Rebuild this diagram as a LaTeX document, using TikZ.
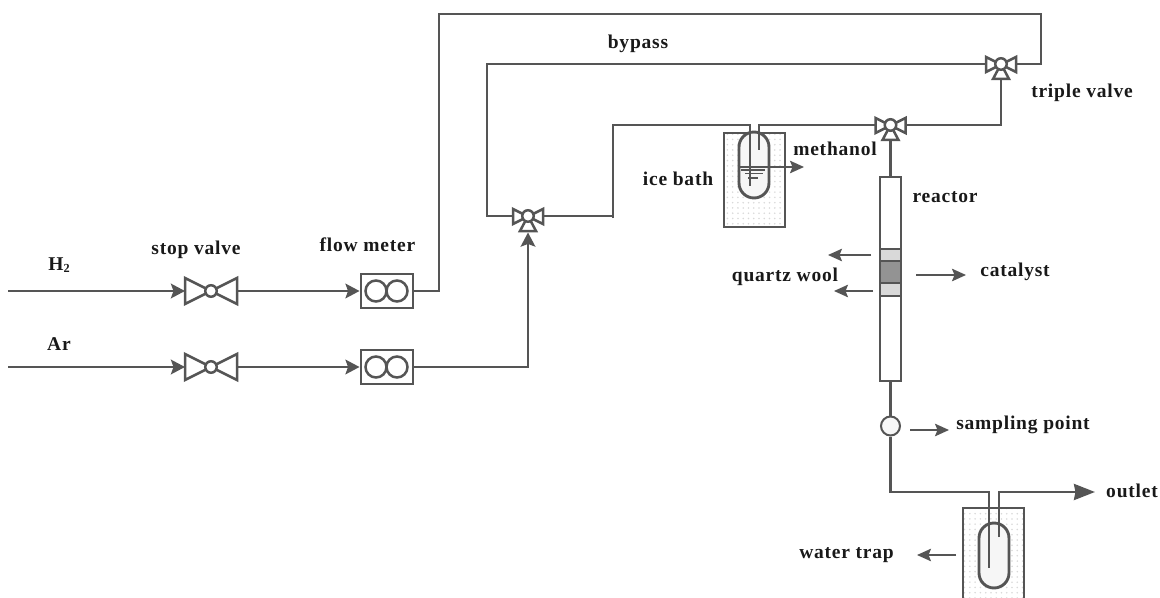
\documentclass[tikz,border=0pt]{standalone}
\usepackage{fontspec}
\setmainfont{Liberation Serif}[LetterSpace=4]
\usetikzlibrary{arrows.meta, patterns, calc}
\definecolor{pipegray}{HTML}{555555}
\tikzset{
  pipe/.style   ={draw=pipegray, line width=0.58mm, line join=miter},
  arr/.style    ={pipe, -{Stealth[length=2.8mm, width=2.9mm, inset=0.5mm]}},
  bigarr/.style ={pipe, -{Stealth[length=4.2mm, width=3.2mm, inset=0.3mm]}},
  thin arr/.style={draw=pipegray, line width=0.34mm, -{Stealth[length=2.8mm, width=2.5mm, inset=0.5mm]}},
  lbl/.style    ={font=\fontsize{11.1}{13}\selectfont\bfseries, text=black!90, inner sep=0pt},
  hub/.style    ={circle, draw=pipegray, line width=0.5mm, fill=white, minimum size=0.23cm, inner sep=0pt},
  wing/.style   ={draw=pipegray, line width=0.5mm, fill=white, line join=miter},
  meter/.style  ={draw=pipegray, line width=0.58mm, fill=white, minimum width=1.04cm, minimum height=0.68cm, inner sep=0pt},
  disc/.style   ={circle, draw=pipegray, line width=0.4mm, fill=gray!6, minimum size=0.38cm, inner sep=0pt},
  bath/.style   ={pattern=dots, pattern color=gray!30},
  capsule/.style={draw=pipegray, line width=0.58mm, fill=gray!7, rounded corners=0.3cm, minimum width=0.6cm, inner sep=0pt},
  tube/.style   ={draw=pipegray, line width=0.58mm, fill=white, minimum width=0.42cm, minimum height=4.08cm, inner sep=0pt},
  pics/stopvalve/.style={code={
    \draw[wing] (-26,-13) -- (-26,13) -- (26,-13) -- (26,13) -- cycle;
    \node[hub] (-c) at (0,0) {};
    \coordinate (-w) at (-26,0);
    \coordinate (-e) at (26,0);
  }},
  pics/triplevalve/.style={code={
    \draw[wing] (-15,-7) -- (-15,8) -- (15,-7) -- (15,8) -- cycle;
    \draw[wing] (0,0) -- (-8,15) -- (8,15) -- cycle;
    \node[hub] (-c) at (0,0) {};
    \coordinate (-w) at (-15,0);
    \coordinate (-e) at (15,0);
    \coordinate (-s) at (0,15);
  }},
  pics/flowmeter/.style={code={
    \node[meter] (-b) at (0,0) {};
    \draw[pipegray, line width=0.5mm] (-11,0) circle (10.5) (10,0) circle (10.5);
  }},
}
\begin{document}
\begin{tikzpicture}[x=0.02cm, y=-0.02cm]
  \useasboundingbox (0,0) rectangle (1160,598);

  % baths
  \fill[bath] (724,133) rectangle (785,227);
  \draw[pipe] (724,133) rectangle (785,227);
  \fill[bath] (963,508) rectangle (1024,598);
  \draw[pipe] (963,598) -- (963,508) -- (1024,508) -- (1024,598);
  \node[capsule, minimum height=1.32cm] (icevial)  at (754,165) {};
  \node[capsule, minimum height=1.3cm]  (trapvial) at (994,555.5) {};

  % valves and meters
  \coordinate (hin) at (8,291);
  \coordinate (ain) at (8,367);
  \pic (svh) at (211,291) {stopvalve};
  \pic (sva) at (211,367) {stopvalve};
  \pic (fmh) at (387,291) {flowmeter};
  \pic (fma) at (387,367) {flowmeter};
  \pic (tvb) at (528,216) {triplevalve};
  \pic (tvr) at (890.5,125) {triplevalve};
  \pic (tvt) at (1001,64) {triplevalve};
  \node[tube] (reactor) at (890.5,279) {};
  \node[disc] (sample)  at (890.5,426) {};

  % catalyst bed
  \fill[gray!30] (880,249) rectangle (901,261);
  \fill[gray!30] (880,283) rectangle (901,296);
  \fill[gray!85] (880,261) rectangle (901,283);
  \draw[pipe] (880,249) -- (901,249) (880,261) -- (901,261)
              (880,283) -- (901,283) (880,296) -- (901,296);
  \draw[pipe] (880,177) -- (880,381) (901,177) -- (901,381);

  % gas lines
  \draw[arr] (hin) -- (svh-w);
  \draw[arr] (ain) -- (sva-w);
  \draw[arr] (svh-e) -- (fmh-b.west);
  \draw[arr] (sva-e) -- (fma-b.west);
  \draw[pipe] (fmh-b.east) -| (439,14) -| (1041,64) -- (tvt-e);
  \draw[arr] (fma-b.east) -| ($(tvb-s)+(0,1.5)$);
  \draw[pipe] (tvb-w) -| (487,64) -- (tvt-w);
  \draw[pipe] (tvb-e) -- (613,216);
  \draw[pipe] (613,218) -- (613,125) -- (750,125) -- (750,186);
  \draw[pipe] (759,150) -- (759,125) -- (tvr-w);
  \draw[pipe] (tvr-e) -- (1001,125) -- (tvt-s);
  \draw[pipe] (tvr-s) -- (reactor.north);
  \draw[pipe] (reactor.south) -- (sample.north);
  \draw[pipe] (sample.south) |- (989,492) -- (989,568);
  \draw[bigarr] (999,537) -- (999,492) -- (1095,492);

  % liquid level
  \draw[pipegray, line width=0.25mm] (741,170) -- (765,170) (745,173.5) -- (763,173.5) (748,178) -- (758,178);

  % pointers
  \coordinate (mtip) at (804,167);
  \draw[thin arr] (739,167) -- (mtip);
  \draw[thin arr] (871,255) -- (828,255);
  \draw[thin arr] (873,291) -- (834,291);
  \draw[thin arr] (916,275) -- (966,275);
  \draw[thin arr] (910,430) -- (949,430);
  \draw[thin arr] (956,555) -- (917,555);

  % labels
  \node[lbl] (lhtwo)   at (59,265)   {H\raisebox{-0.3ex}{\fontsize{7}{8}\selectfont 2}};
  \node[lbl] (lar)     at (59,344)   {Ar};
  \node[lbl] (lstop)   at (196,250)  {stop valve};
  \node[lbl] (lflow)   at (367.5,245) {flow meter};
  \node[lbl] (lby)     at (638,44)   {bypass};
  \node[lbl] (lice)    at (678,179)  {ice bath};
  \node[lbl] (lmeth)   at (835,149)  {methanol};
  \node[lbl] (ltriple) at (1082,93)  {triple valve};
  \node[lbl] (lreact)  at (945,197)  {reactor};
  \node[lbl] (lquartz) at (785,277)  {quartz wool};
  \node[lbl] (lcat)    at (1015,272) {catalyst};
  \node[lbl] (lsamp)   at (1023,425) {sampling point};
  \node[lbl] (lout)    at (1132,491) {outlet};
  \node[lbl] (lwater)  at (846.5,555) {water trap};
\end{tikzpicture}
\end{document}
